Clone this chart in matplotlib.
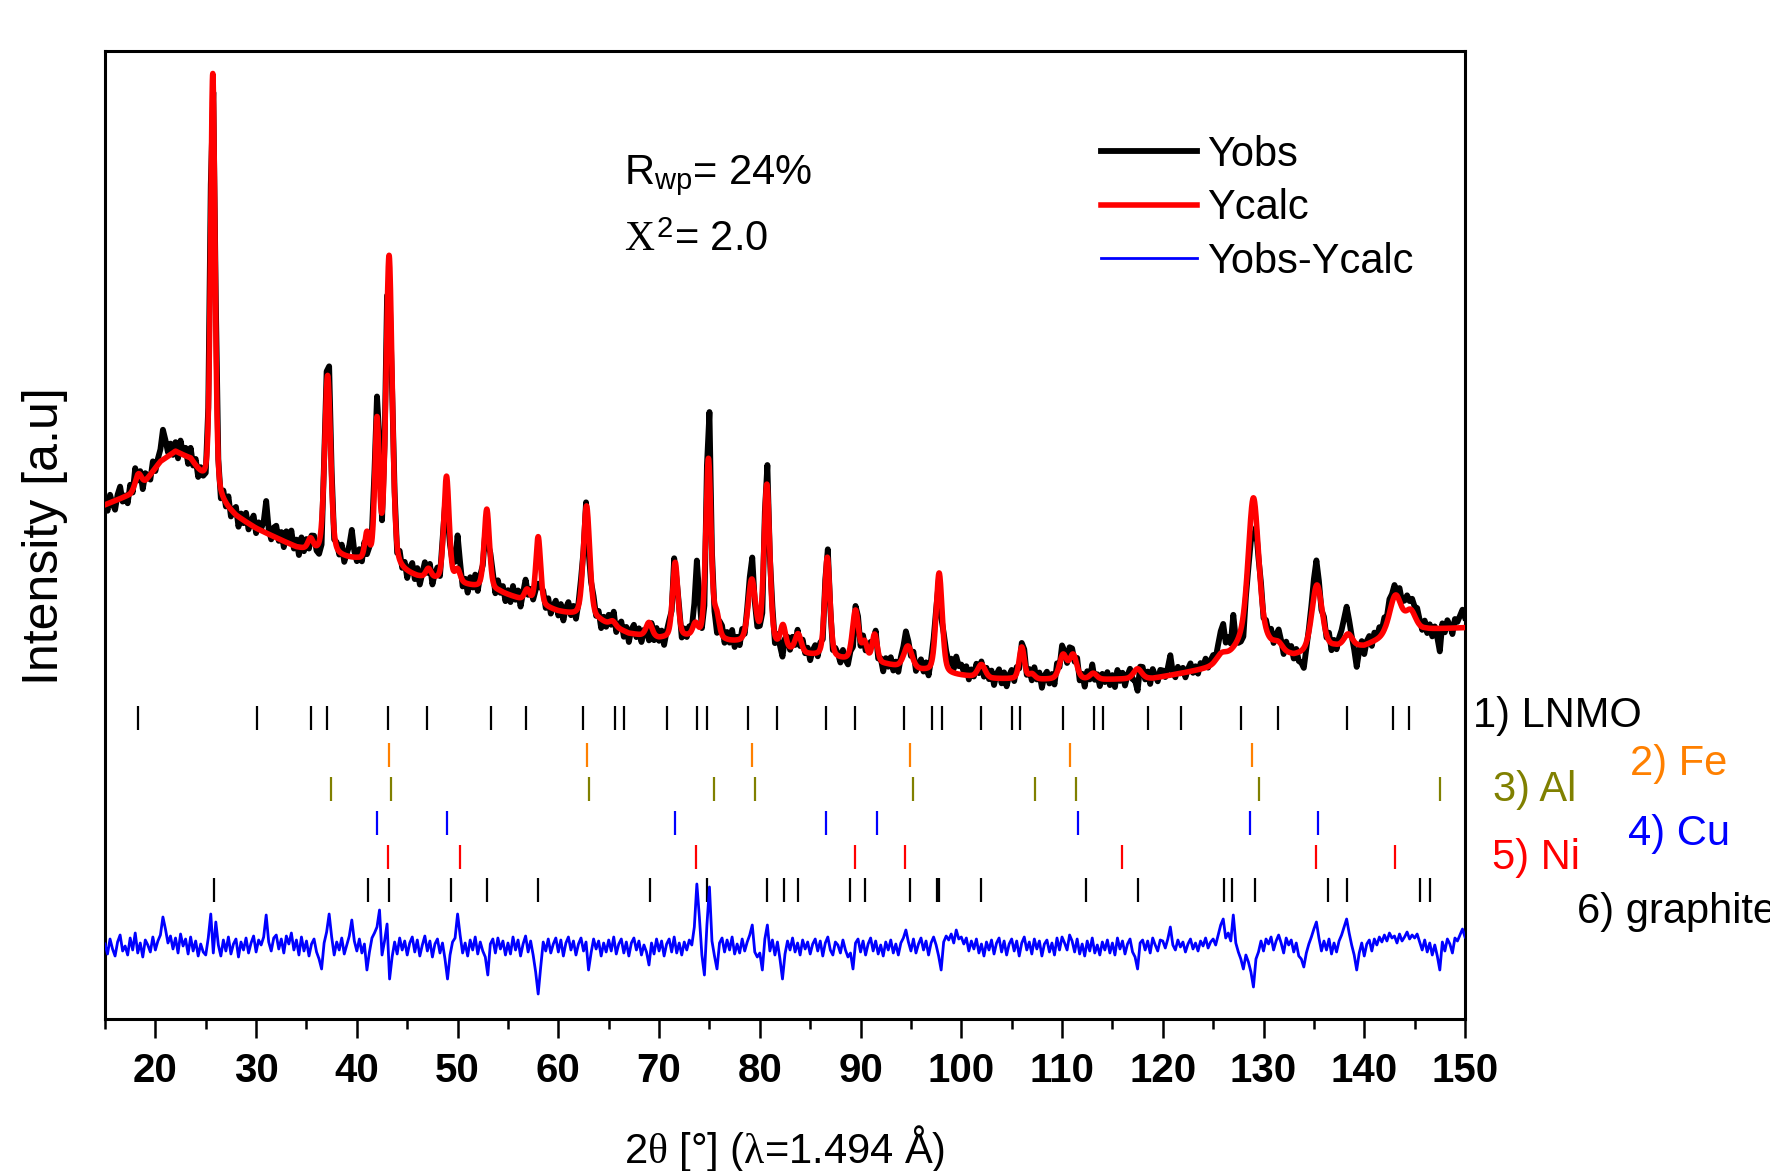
import numpy as np
import matplotlib
matplotlib.use('Agg')
import matplotlib.pyplot as plt

plt.rcParams['font.family'] = ['Liberation Sans', 'DejaVu Sans']
plt.rcParams['mathtext.fontset'] = 'custom'
plt.rcParams['mathtext.rm'] = 'Liberation Sans'
plt.rcParams['mathtext.it'] = 'Liberation Serif'
plt.rcParams['mathtext.bf'] = 'Liberation Sans:bold'

# ---------------- data (intensity in a.u.) ----------------
# background of the calculated pattern
bg_deg = [15, 17.5, 19, 20.5, 22, 23.5, 24.8, 26.5, 28, 30, 34, 37, 40, 46, 50, 54, 56, 60,
          64, 67, 70, 73, 77, 80, 84.5, 88, 92.5, 96, 99, 103, 108, 114, 119, 122, 125,
          127, 131, 133, 137, 140, 142, 146, 150]
bg_int = [514, 524, 537, 557, 567, 559, 537, 515, 502, 490, 471, 463, 458, 441, 435, 427, 420, 407,
          398, 385, 380, 381, 376, 374, 364, 359, 354, 348, 344, 340, 339, 339, 340, 345, 350,
          355, 363, 361, 371, 372, 380, 389, 391]

# Bragg reflections of the calculated pattern
peak_pos = [18.3, 25.7, 35.4, 37.1, 41.0, 42.0, 43.2, 47.1, 48.9, 50.0, 52.9, 56.9, 58.0, 62.8,
            65.4, 69.0, 71.6, 73.6, 74.9, 75.7, 79.2, 80.7, 82.3, 83.8, 86.7, 89.5, 90.4, 91.4,
            94.7, 97.8, 102.0, 106.0, 107.0, 110.1, 111.1, 113.1, 117.5, 125.8, 128.8, 129.0,
            131.5, 135.3, 138.4, 143.1, 144.6]
peak_height = [14, 420, 11, 180, 26, 140, 312, 9, 105, 12, 80, 11, 68, 112,
               5, 14, 75, 12, 180, 22, 62, 160, 22, 18, 100, 50, 18, 28,
               22, 100, 13, 32, 5, 24, 24, 6, 10, 8, 25, 137,
               6, 66, 12, 40, 20]
peak_fwhm = [0.7, 0.52, 0.6, 0.7, 0.5, 0.52, 0.72, 0.6, 0.62, 0.6, 0.62, 0.6, 0.56, 0.75,
             0.7, 0.7, 0.62, 0.6, 0.62, 0.6, 0.85, 0.68, 0.6, 0.7, 0.62, 0.72, 0.6, 0.6,
             0.95, 0.72, 0.85, 0.6, 0.7, 0.85, 0.85, 0.8, 0.95, 1.2, 3.5, 1.2,
             0.9, 1.2, 0.95, 1.4, 1.2]

# Yobs - Ycalc, every 0.25 deg from 15 to 150
residual = [
    3, -7, 8, -2, -9, 5, 12, -4, 1, -8, 9, -3, 14, -6, 4, -10, 7, 2, -5, 10,
    -3, 6, 12, 30, 18, 4, 11, -2, 9, -6, 13, 1, 8, -7, 10, -4, 6, -9, 3, -5,
    -8, 9, 33, -6, 25, 2, -9, 7, -4, 10, -7, 3, 8, -10, 5, -3, 9, -6, 4, 11,
    -5, 7, 2, 10, 32, 5, -4, 9, 12, -2, 8, -6, 11, 3, 14, -3, 7, -8, 10, -4,
    6, -9, 3, 8, -5, -12, -22, 4, 15, 33, 10, -8, 5, -3, 9, -7, 2, 11, 27, 6,
    -4, 8, -6, 3, -23, -5, 9, 14, 20, 37, -8, 6, 23, -32, -10, 5, -7, 9, -3, 6,
    -8, 4, 10, -5, 7, -9, 2, 11, -4, 6, -10, 3, 8, -6, 4, -12, -32, -8, 5, 9,
    33, 12, -6, 4, -9, 7, -3, 10, -7, 5, -4, -10, -28, 3, 8, -6, 9, -2, 6, -8,
    4, -7, 10, -3, 7, -9, 3, 11, -5, 6, -8, -25, -47, -20, 5, -4, 8, -6, 3, 9,
    -5, 7, -9, 4, 10, -3, 6, -8, 3, 9, -4, 5, -23, -6, 8, -2, 6, -9, 4, -5,
    7, -4, 10, -7, 3, 8, -6, 5, -9, 4, 9, -3, 6, -8, 2, -5, -18, 4, -7, 8,
    -4, 6, -9, 3, 8, -5, 10, -6, 4, -8, 5, -3, 7, 2, 20, 63, 30, -8, -28, 22,
    60, 6, -9, -22, 4, 9, -5, 7, -3, 10, -7, 3, -6, 8, -4, 5, 12, 22, -5, -10,
    -6, -23, 8, 22, -4, 7, -8, 5, -12, -32, -7, 6, -3, 9, -5, 4, -8, 7, -2, 5,
    -7, 3, 8, -4, 6, -9, 4, 10, -3, -8, 5, 2, -6, 7, -3, -10, -6, -22, 4, 8,
    -5, 6, -8, 3, 9, -4, 6, -7, 2, -9, 5, -3, 7, -6, 3, -8, 4, 9, 17, 5,
    -4, 8, -6, 3, 9, -3, 6, -8, 4, 10, 2, -9, -23, 5, 11, 7, 13, 4, 17, 8,
    10, 3, 9, -4, 6, -2, 8, -6, 3, -9, 5, -3, 7, -7, 4, 9, -5, 6, -8, 3,
    8, -4, 6, -9, 4, 10, -3, 5, -7, 8, -2, 6, -9, 3, 7, -5, 4, -8, 9, -3,
    10, 4, -3, 12, 6, -5, 8, -7, 3, -9, 6, -4, 9, -6, 2, -8, 5, -3, 7, -6,
    4, -8, 9, -2, 6, -7, 3, 8, -5, -10, -22, 4, 7, -3, 6, -6, 9, 2, -4, 7,
    6, -1, 8, 20, 2, -3, 7, 0, 5, -5, 3, 8, -2, 4, -4, 6, 1, 9, -1, 5,
    8, 2, 12, 22, 28, 9, 14, 6, 32, 4, -5, -12, -22, -8, -15, -25, -40, -12, -5, 6,
    -4, 8, 3, 10, -3, 6, 12, 4, -6, 9, 2, 7, -5, 4, -9, -12, -20, -6, 3, 10,
    18, 25, 9, -4, 6, -3, 8, -7, 4, -5, 6, 12, 20, 28, 14, 2, -8, -23, -6, 4,
    -9, 3, 7, -4, 8, 2, 10, 5, 12, 6, 14, 9, 11, 4, 13, 6, 10, 15, 8, 12,
    9, 13, 5, -3, 7, -5, 4, -8, 2, -9, -23, 5, -4, 8, 3, -6, 9, 6, 12, 18,
    10]
residual_offset = 72

# reflection markers of the phases
lnmo_pos = [18.3, 30.1, 35.4, 37.0, 43.1, 47.0, 53.3, 56.8, 62.4, 65.6, 66.5, 70.8, 73.8, 74.8,
            78.8, 81.7, 86.6, 89.4, 94.3, 97.1, 98.1, 102.0, 105.0, 105.8, 110.1, 113.2, 114.1,
            118.5, 121.8, 127.8, 131.4, 138.3, 142.9, 144.4]
fe_pos = [43.2, 62.8, 79.2, 94.9, 110.8, 128.9]
al_pos = [37.4, 43.4, 63.0, 75.5, 79.5, 95.2, 107.3, 111.4, 129.6, 147.5]
cu_pos = [42.0, 48.9, 71.6, 86.6, 91.6, 111.6, 128.7, 135.4]
ni_pos = [43.1, 50.2, 73.7, 89.4, 94.4, 116.0, 135.2, 143.1]
graphite_pos = [25.8, 41.1, 43.2, 49.3, 52.9, 58.0, 69.1, 74.8, 80.7, 82.4, 83.8, 89.0, 90.4,
                94.9, 97.6, 97.8, 102.0, 112.4, 117.5, 126.1, 126.9, 129.2, 136.4, 138.3,
                145.5, 146.5]

phase_names = ['1) LNMO', '2) Fe', '3) Al', '4) Cu', '5) Ni', '6) graphite']
phase_colors = ['black', '#FF8000', '#808000', '#0000FF', '#FF0000', 'black']
phase_rows = [301, 264, 230, 196, 162, 129]

x_ticks = list(range(20, 151, 10))

# ---------------- model ----------------
def calc_profile(x):
    y = np.interp(x, bg_deg, bg_int).astype(float)
    for p, h, w in zip(peak_pos, peak_height, peak_fwhm):
        d = (x - p) / w
        y += h * (0.65 * np.exp(-4 * np.log(2) * d ** 2) + 0.35 / (1 + 4 * d ** 2))
    return y

x_fine = np.arange(15, 150.0001, 0.02)
y_calc = calc_profile(x_fine)
x_obs = 15 + 0.25 * np.arange(len(residual))
res = np.array(residual, float)
y_obs = calc_profile(x_obs) + res

# ---------------- figure ----------------
W, H = 1770, 1171
fig = plt.figure(figsize=(W / 100, H / 100), dpi=100)
ax = fig.add_axes([105 / W, 1 - 1019 / H, 1360 / W, 968 / H])

ax.plot(x_obs, y_obs, color='black', lw=4.2, solid_joinstyle='round', label='Yobs', zorder=3)
ax.plot(x_fine, y_calc, color='#FF0000', lw=4.0, label='Ycalc', zorder=4)
ax.plot(x_obs, res + residual_offset, color='#0000FF', lw=2.0, label='Yobs-Ycalc', zorder=3)

pos_lists = [lnmo_pos, fe_pos, al_pos, cu_pos, ni_pos, graphite_pos]
for pos, col, row in zip(pos_lists, phase_colors, phase_rows):
    ax.vlines(pos, row - 12, row + 12, color=col, lw=1.6, zorder=2)

ax.set_xlim(15, 150)
ax.set_ylim(0, 968)
ax.set_yticks([])
ax.set_xticks(x_ticks)
ax.set_xticks(np.arange(15, 151, 10), minor=True)
ax.tick_params(axis='x', which='major', direction='out', length=14, width=1.8, pad=10,
               labelsize=29)
ax.tick_params(axis='x', which='minor', direction='out', length=7, width=1.8)
for lab in ax.get_xticklabels():
    lab.set_fontweight('bold')
for sp in ax.spines.values():
    sp.set_linewidth(2.2)

leg = ax.legend(loc='upper left', bbox_to_anchor=(1101 / W, 1 - 135 / H),
                bbox_transform=fig.transFigure, frameon=False, fontsize=30,
                handlelength=2.3, handletextpad=0.25, labelspacing=0.32,
                borderpad=0, borderaxespad=0)


def fx(px):
    return px / W


def fy(py):
    return 1 - py / H


fig.text(fx(624), fy(184), r'R$_{\mathrm{wp}}$= 24%', fontsize=30, va='baseline', ha='left')
fig.text(fx(624), fy(251), r'$\mathit{X}^{\mathrm{2}}$= 2.0', fontsize=30, va='baseline', ha='left')

label_xy = [(1473, 716), (1630, 764), (1493, 790), (1628, 834), (1492, 858), (1577, 912)]
for name, col, (px, py) in zip(phase_names, phase_colors, label_xy):
    fig.text(fx(px), fy(py), name, color=col, fontsize=30, ha='left', va='center')

fig.text(fx(785), fy(1149), r'2$\theta$ [°] ($\lambda$=1.494 Å)', fontsize=30,
         ha='center', va='center')
fig.text(fx(45), fy(536), 'Intensity [a.u]', fontsize=36, rotation=90,
         ha='center', va='center')

fig.savefig('out.png', dpi=100)
